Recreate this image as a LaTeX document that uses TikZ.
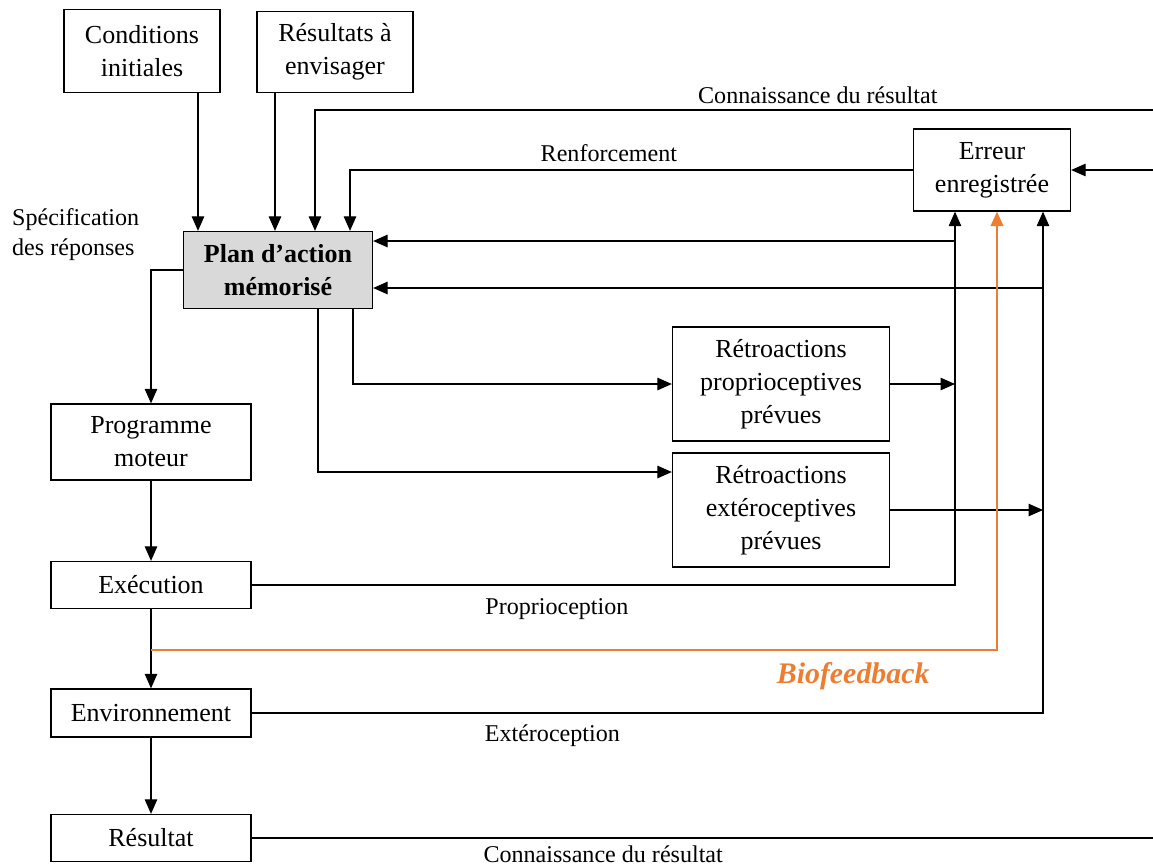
\documentclass[tikz,border=0pt]{standalone}
\usepackage{fontspec}
\setmainfont{Liberation Serif}
\usetikzlibrary{arrows.meta}
\definecolor{biocol}{HTML}{ED7D31}
\tikzset{
	box/.style={draw,line width=0.75pt,align=center,inner sep=2pt,font=\fontsize{14.8}{18.7}\selectfont},
	lbl/.style={font=\fontsize{13.7}{17}\selectfont},
	arr/.style={-{Triangle[length=2.9mm,width=2.5mm]},line width=0.7pt}
}
\begin{document}
\begin{tikzpicture}[x=0.02cm,y=-0.02cm]
	\useasboundingbox (0,0) rectangle (1153,867);
	\node[box,minimum width=3.12cm,minimum height=1.66cm] (cond) at (142,51)  {Conditions\\initiales};
	\node[box,minimum width=3.12cm,minimum height=1.62cm] (resu) at (335,52)  {Résultats à\\envisager};
	\node[box,fill=gray!30,minimum width=3.78cm,minimum height=1.54cm,font=\fontsize{14.8}{18.7}\selectfont\bfseries] (plan) at (278,270) {Plan d’action\\mémorisé};
	\node[box,minimum width=4cm,minimum height=1.52cm] (prog) at (151,442) {Programme\\moteur};
	\node[box,minimum width=4cm,minimum height=0.94cm] (exec) at (151,585) {Exécution};
	\node[box,minimum width=4cm,minimum height=0.96cm] (env)  at (151,713) {Environnement};
	\node[box,minimum width=4cm,minimum height=0.94cm] (res)  at (151,838) {Résultat};
	\node[box,minimum width=4.34cm,minimum height=2.28cm] (rp) at (781,384) {Rétroactions\\proprioceptives\\prévues};
	\node[box,minimum width=4.34cm,minimum height=2.28cm] (re) at (781,510) {Rétroactions\\extéroceptives\\prévues};
	\node[box,minimum width=3.14cm,minimum height=1.64cm] (err) at (992,170) {Erreur\\enregistrée};
	\node[lbl,anchor=west,align=left] (spec) at (6,235) {Spécification\\des réponses};

	% free ends and crossing points
	\coordinate (c1) at (198,0);
	\coordinate (c2) at (275,0);
	\coordinate (c3) at (315,0);
	\coordinate (c4) at (350,0);
	\coordinate (h1) at (353,0);
	\coordinate (h2) at (318,472);
	\coordinate (p) at (955,241);
	\coordinate (e) at (1043,288);
	\coordinate (b) at (997,0);
	\coordinate (bio) at (151,650);
	\coordinate (kr1) at (1153,110);
	\coordinate (kr2) at (1153,838);
	\coordinate (kin) at (1153,0);

	\draw[arr] (cond.south -| c1) -- (plan.north -| c1);
	\draw[arr] (resu.south -| c2) -- (plan.north -| c2);
	\draw[arr] (kr1) -| node[lbl,pos=.2,above] {Connaissance du résultat} (plan.north -| c3);
	\draw[arr] (err.west) -| node[lbl,pos=.27,above=1pt] {Renforcement} (plan.north -| c4);
	\draw[arr] (kin |- err.east) -- (err.east);
	\draw[arr] (p) -- (plan.east |- p);
	\draw[arr] (e) -- (plan.east |- e);
	\draw[arr] (plan.west) -| (prog.north);
	\draw[arr] (plan.south -| h1) |- (rp.west);
	\draw[arr] (plan.south -| h2) |- (re.west |- h2);
	\draw[arr] (rp.east) -- (rp.east -| p);
	\draw[arr] (re.east) -- (re.east -| e);
	\draw[arr] (prog) -- (exec);
	\draw[arr] (exec) -- (env);
	\draw[arr] (env) -- (res);
	\draw[arr] (exec.east) -| node[lbl,pos=.217,below=4pt] {Proprioception} (err.south -| p);
	\draw[arr] (env.east) -| node[lbl,pos=.19,below=3pt] {Extéroception} (err.south -| e);
	\draw[arr,biocol,line width=1.4pt] (bio) -| node[pos=.415,below=3pt,font=\fontsize{17}{20}\selectfont\bfseries\itshape] {Biofeedback} (err.south -| b);
	\draw[line width=0.7pt] (res.east) -- node[lbl,pos=.39,below=1pt] {Connaissance du résultat} (kr2);
\end{tikzpicture}
\end{document}
